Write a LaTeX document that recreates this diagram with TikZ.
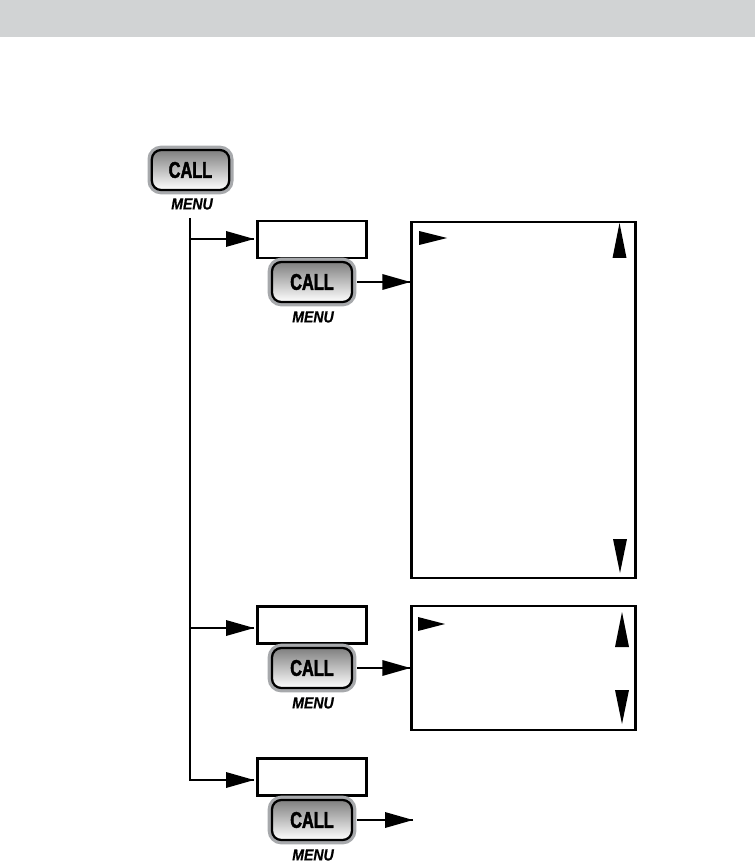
\documentclass[tikz,border=0pt]{standalone}
\usepackage{fontspec}
\usepackage{tikz}
\usetikzlibrary{positioning, calc}
\setmainfont{Liberation Sans}
\newfontfamily\keyfont[FakeStretch=0.72,FakeBold=2]{Liberation Sans Bold}
\newfontfamily\menufont[FakeStretch=0.88,FakeBold=0.6]{Liberation Sans Bold Italic}
\definecolor{bandgray}{HTML}{D1D3D4}
\definecolor{rimgray}{HTML}{A7A9AC}

\begin{document}
\begin{tikzpicture}[
    x=0.75pt, y=-0.75pt,
    callkey/.style={rounded corners=7pt, minimum height=30pt, minimum width=60pt, inner sep=0pt,
        align=center, font=\keyfont\fontsize{17}{17}\selectfont,
        draw=black, line width=1.7pt, top color=black!50, bottom color=white,
        preaction={draw=rimgray, line width=6.5pt}},
    menulbl/.style={font=\menufont\fontsize{12}{12}\selectfont, inner sep=0pt},
    namebox/.style={minimum height=27.5pt, minimum width=81.5pt, inner sep=0pt,
        draw, line width=1.8pt, fill=white},
    panel/.style={minimum width=168pt, inner sep=0pt, draw, line width=1.8pt, fill=white},
    arr/.style={line width=2pt},
    tip/.style={fill=black},
]
\useasboundingbox (0,0) rectangle (755,862);

% ===== Header band =====
\fill[bandgray] (0,0) rectangle (755,37);

% ===== Top key =====
\node[callkey, minimum width=58pt] (keyTop) at (190.5,170) {CALL};
\node[menulbl] (menuTop) at (192,204) {MENU};

% ===== Name boxes =====
\node[namebox] (boxA) at (312,239.5) {};
\node[namebox] (boxB) at (312,625) {};
\node[namebox] (boxC) at (312,777) {};

% ===== Keys under the boxes =====
\node[callkey] (keyA) at (312,282) {CALL};
\node[menulbl] (menuA) at (313,317) {MENU};
\node[callkey] (keyB) at (312,668) {CALL};
\node[menulbl] (menuB) at (313,703) {MENU};
\node[callkey] (keyC) at (312,820) {CALL};
\node[menulbl] (menuC) at (313,855) {MENU};

% ===== Panels =====
\node[panel, minimum height=267pt] (panelA) at (523.5,400) {};
\node[panel, minimum height=93pt] (panelB) at (523.5,668) {};

% ===== Trunk and branches =====
\coordinate (trunkTop) at (190,218);
\coordinate (trunkB) at (190,628);
\coordinate (trunkA) at (190,239);
\coordinate (tipA) at (254,239);
\coordinate (tipB) at (254,628);
\coordinate (tipC) at (254,780);
\coordinate (tipD) at (413,820);
\draw[arr] (trunkTop) |- (tipC);
\draw[arr] (trunkA) -- (tipA);
\draw[arr] (trunkB) -- (tipB);
\draw[arr, shorten <=3pt] (keyA.east) -- (keyA.east -| panelA.west);
\draw[arr, shorten <=3pt] (keyB.east) -- (keyB.east -| panelB.west);
\draw[arr, shorten <=3pt] (keyC.east) -- (tipD);

% ===== Big arrowheads =====
\foreach \tipname in {tipA,tipB,tipC,tipD}
  \fill[tip] (\tipname) -- ++(-28,-8) -- ++(0,16) -- cycle;
\fill[tip] ($(keyA.east -| panelA.west)$) -- ++(-28,-8) -- ++(0,16) -- cycle;
\fill[tip] ($(keyB.east -| panelB.west)$) -- ++(-28,-8) -- ++(0,16) -- cycle;

% ===== Panel marks =====
\fill[tip] (419,231) -- (447,238) -- (419,245) -- cycle;
\fill[tip] (619.5,223) -- (626.5,258) -- (612.5,258) -- cycle;
\fill[tip] (613,539) -- (627,539) -- (620,573) -- cycle;
\fill[tip] (418,617) -- (445,624) -- (418,631) -- cycle;
\fill[tip] (622,612) -- (629,647) -- (615,647) -- cycle;
\fill[tip] (615,690) -- (629,690) -- (622,724) -- cycle;

\end{tikzpicture}
\end{document}
